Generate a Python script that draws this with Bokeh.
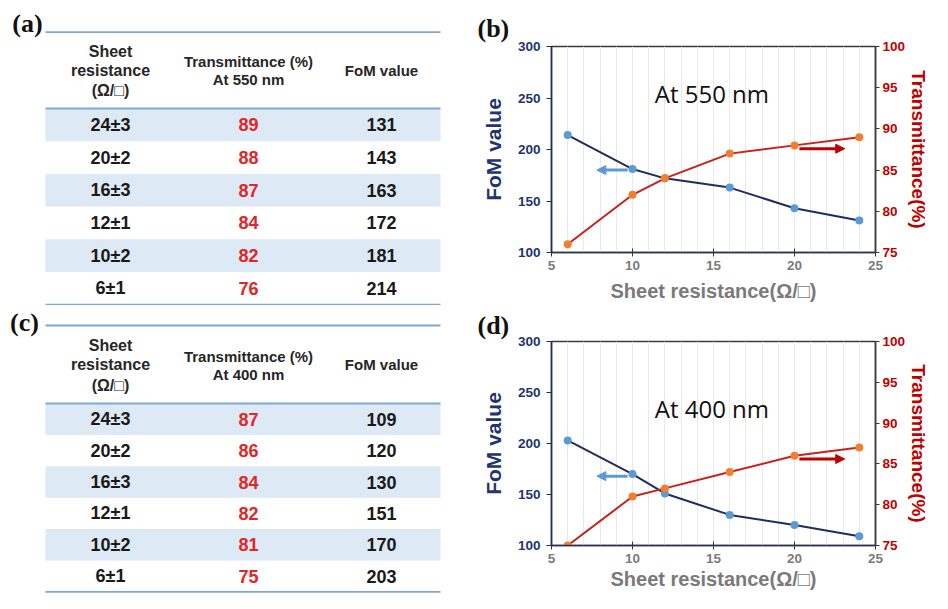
from bokeh.plotting import figure
from bokeh.models import (Range1d, LinearAxis, ColumnDataSource, Label, Arrow,
                          NormalHead, SingleIntervalTicker)
from bokeh.layouts import row, column
from bokeh.embed import file_html
from bokeh.resources import INLINE
from bokeh.core.properties import value

# ---------------- data ----------------
sheet_res = [6, 10, 12, 16, 20, 24]
sheet_labels = ["6±1", "10±2", "12±1", "16±3", "20±2", "24±3"]
fom_550 = [214, 181, 172, 163, 143, 131]
trans_550 = [76, 82, 84, 87, 88, 89]
fom_400 = [203, 170, 151, 130, 120, 109]
trans_400 = [75, 81, 82, 84, 86, 87]

header_col1 = ["Sheet", "resistance", "(Ω/□)"]
header_col3 = "FoM value"
x_ticks_interval = 5
x_title = "Sheet resistance(Ω/□)"
y_left_title = "FoM value"
y_right_title = "Transmittance(%)"

# ---------------- styles ----------------
SANS = value("Liberation Sans")
SERIF = "Liberation Serif"
NAVY = "#1f2d5e"
NAVY_LBL = "#223371"
BLUE_PT = "#5b9bd5"
RED_LINE = "#c8211c"
ORANGE_PT = "#f0802f"
RED_TXT = "#c00000"
GRAY_TXT = "#7a7a7a"
TBL_LINE = "#7fa7cf"
TBL_SHADE = "#dde9f5"
TBL_RED = "#e02626"
TBL_TXT = "#1a1a1a"

LW, RW = 447, 485
TOP_H, BOT_H = 305, 288


def make_table(h, panel, top_line, head_line, row_h, c1_y, c2_y, c3_y, wl,
               trans, fom):
    p = figure(width=LW, height=h, x_range=Range1d(0, LW), y_range=Range1d(h, 0),
               x_axis_type=None, y_axis_type=None, output_backend="svg",
               toolbar_location=None, min_border=0)
    p.grid.visible = False
    p.outline_line_color = None
    xl, xr = 45, 440
    cx = [110, 248, 381]
    labels = list(reversed(sheet_labels))
    tv = [str(v) for v in reversed(trans)]
    fv = [str(v) for v in reversed(fom)]
    n = len(labels)
    tops = [head_line + i * row_h for i in range(n)]
    shade = [i for i in range(n) if i % 2 == 0]
    p.quad(left=xl, right=xr, top=[tops[i] for i in shade],
           bottom=[tops[i] + row_h for i in shade], fill_color=TBL_SHADE,
           line_color=None)
    ys = [head_line + (i + 0.5) * row_h for i in range(n)]
    lines_y = [top_line, head_line, head_line + n * row_h]
    p.segment(x0=xl, x1=xr, y0=lines_y, y1=lines_y, line_color=TBL_LINE, line_width=1.8)
    common = dict(text_align="center", text_baseline="middle", text_font=SANS,
                  text_font_style="bold")
    p.text(x=cx[0], y=ys, text=labels, text_color=TBL_TXT, text_font_size="18px", **common)
    p.text(x=cx[1], y=ys, text=tv, text_color=TBL_RED, text_font_size="18px", **common)
    p.text(x=cx[2], y=ys, text=fv, text_color=TBL_TXT, text_font_size="18px", **common)
    # headers
    p.text(x=cx[0], y=c1_y, text=header_col1, text_color="#262626",
           text_font_size="16px", **common)
    p.text(x=cx[1], y=c2_y, text=["Transmittance (%)", "At %d nm" % wl],
           text_color="#262626", text_font_size="15px", **common)
    p.text(x=cx[2], y=[c3_y], text=[header_col3], text_color="#262626",
           text_font_size="15px", **common)
    p.add_layout(Label(x=panel[1], y=panel[2], text=panel[0], text_align="center",
                       text_baseline="middle", text_font=SERIF, text_font_style="bold",
                       text_font_size="26px", text_color="#111111"))
    return p


def make_chart(h, top, bottom, fom, trans, wl, panel, note_xy, blue_arrow,
               red_arrow, xlab_standoff, title_standoff):
    p = figure(width=RW, height=h, x_range=Range1d(5, 25), y_range=Range1d(100, 300),
               output_backend="svg", toolbar_location=None,
               min_border_left=104, min_border_right=55, min_border_top=top,
               min_border_bottom=bottom)
    p.title.text = panel
    p.title.align = "left"
    p.title.offset = -74
    p.title.text_font = SERIF
    p.title.text_font_style = "bold"
    p.title.text_font_size = "26px"
    p.title.text_color = "#111111"
    p.title.standoff = title_standoff

    p.extra_y_ranges = {"t": Range1d(75, 100)}
    p.outline_line_color = "#3a3a3a"
    p.outline_line_width = 1.5
    p.ygrid.visible = False
    p.xgrid.ticker = SingleIntervalTicker(interval=1)
    p.xgrid.grid_line_color = "#e9e9e9"
    p.xgrid.grid_line_width = 1

    xa = p.xaxis[0]
    xa.ticker = SingleIntervalTicker(interval=x_ticks_interval)
    xa.axis_line_color = "#2e3450"
    xa.axis_line_width = 1.5
    xa.major_tick_line_color = "#2e3450"
    xa.major_tick_in = 4
    xa.major_tick_out = 4
    xa.minor_tick_line_color = None
    xa.major_label_text_font = "Liberation Sans"
    xa.major_label_text_font_style = "bold"
    xa.major_label_text_font_size = "13.5px"
    xa.major_label_text_color = GRAY_TXT
    xa.major_label_standoff = 4
    xa.axis_label = x_title
    xa.axis_label_text_font = "Liberation Sans"
    xa.axis_label_text_font_style = "bold"
    xa.axis_label_text_font_size = "20px"
    xa.axis_label_text_color = GRAY_TXT
    xa.axis_label_standoff = xlab_standoff

    ya = p.yaxis[0]
    ya.ticker = SingleIntervalTicker(interval=50)
    ya.axis_line_color = NAVY
    ya.axis_line_width = 1.5
    ya.major_tick_line_color = NAVY
    ya.major_tick_in = 0
    ya.major_tick_out = 5
    ya.minor_tick_line_color = None
    ya.major_label_text_font = "Liberation Sans"
    ya.major_label_text_font_style = "bold"
    ya.major_label_text_font_size = "13.5px"
    ya.major_label_text_color = NAVY_LBL
    ya.major_label_standoff = 6
    ya.axis_label = y_left_title
    ya.axis_label_text_font = "Liberation Sans"
    ya.axis_label_text_font_style = "bold"
    ya.axis_label_text_font_size = "21px"
    ya.axis_label_text_color = NAVY_LBL
    ya.axis_label_standoff = 10

    ra = LinearAxis(y_range_name="t", ticker=SingleIntervalTicker(interval=5))
    ra.axis_line_color = "#3a3a3a"
    ra.axis_line_width = 1.5
    ra.major_tick_line_color = "#3a3a3a"
    ra.major_tick_in = 0
    ra.major_tick_out = 4
    ra.minor_tick_line_color = None
    ra.major_label_text_font = "Liberation Sans"
    ra.major_label_text_font_style = "bold"
    ra.major_label_text_font_size = "13.5px"
    ra.major_label_text_color = RED_TXT
    ra.major_label_standoff = 3
    ra.axis_label = y_right_title
    ra.axis_label_text_font = "Liberation Sans"
    ra.axis_label_text_font_style = "bold"
    ra.axis_label_text_font_size = "19px"
    ra.axis_label_text_color = RED_TXT
    ra.axis_label_standoff = 0
    p.add_layout(ra, "right")

    src = ColumnDataSource(dict(x=sheet_res, fom=fom, t=trans))
    p.line("x", "fom", source=src, line_color=NAVY, line_width=2)
    p.scatter("x", "fom", source=src, size=8, fill_color=BLUE_PT, line_color=None)
    p.line("x", "t", source=src, y_range_name="t", line_color=RED_LINE, line_width=2)
    p.scatter("x", "t", source=src, y_range_name="t", size=8, fill_color=ORANGE_PT,
              line_color=None)

    p.add_layout(Arrow(x_start=blue_arrow[0], x_end=blue_arrow[1], y_start=blue_arrow[2],
                       y_end=blue_arrow[2], line_color=BLUE_PT, line_width=3,
                       end=NormalHead(size=9, fill_color=BLUE_PT, line_color=BLUE_PT)))
    p.add_layout(Arrow(x_start=red_arrow[0], x_end=red_arrow[1], y_start=red_arrow[2],
                       y_end=red_arrow[2], y_range_name="t", line_color=RED_TXT,
                       line_width=3,
                       end=NormalHead(size=9, fill_color=RED_TXT, line_color=RED_TXT)))

    p.add_layout(Label(x=note_xy[0], y=note_xy[1], text="At %d nm" % wl,
                       text_align="center", text_baseline="middle",
                       text_font="Open Sans", text_font_size="24px",
                       text_color="#111111"))
    return p


ta = make_table(TOP_H, ("(a)", 27, 23), 31.7, 108, 32.7, [51, 70, 90], [61, 79], 70,
                550, trans_550, fom_550)
tc = make_table(BOT_H, ("(c)", 24, 17), 20, 98, 31.4, [40, 59, 80], [51, 69], 59,
                400, trans_400, fom_400)
cb = make_chart(TOP_H, 46, 53, fom_550, trans_550, 550, "(b)", (14.9, 254),
                (9.7, 7.8, 180), (20.3, 23.1, 87.6), 7, 8)
cd = make_chart(BOT_H, 36, 48, fom_400, trans_400, 400, "(d)", (14.9, 234),
                (9.7, 7.8, 168), (20.3, 23.1, 85.6), 2, 4)

layout = row(column(ta, tc), column(cb, cd))
open("out.html", "w").write(file_html(layout, INLINE))
